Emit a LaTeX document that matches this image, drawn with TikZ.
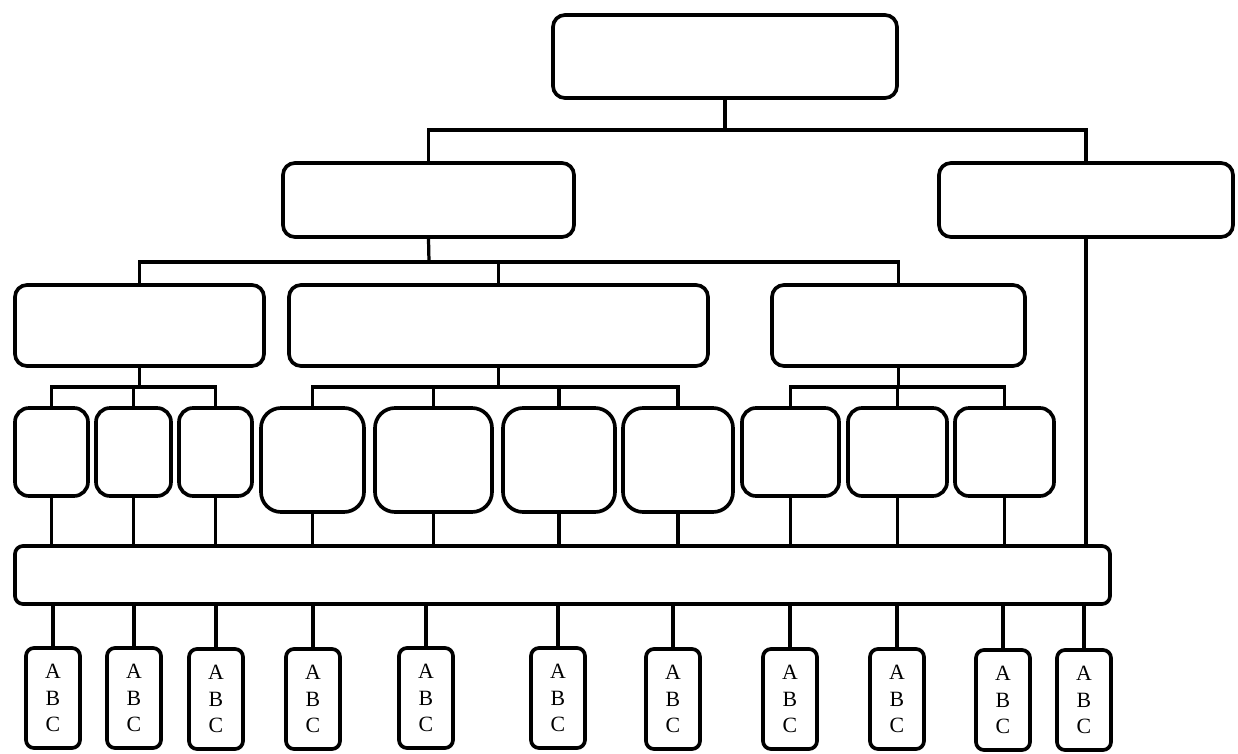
\documentclass[tikz,border=0pt]{standalone}
\usepackage{fontspec}
\setmainfont{Liberation Serif}
\usetikzlibrary{positioning}

\begin{document}
\begin{tikzpicture}[
    x=0.025cm, y=-0.025cm,
    box/.style={
      draw,
      line width=2.6pt,
      rounded corners=0.3cm,
      inner sep=0pt
    },
    dims/.style 2 args={minimum width=#1*0.025cm, minimum height=#2*0.025cm},
    tall/.style={box, rounded corners=0.5cm, dims={#1}{104}},
    narrow/.style={box, rounded corners=0.35cm, dims={#1}{88}},
    leaf/.style={
      box,
      rounded corners=0.2cm,
      dims={54}{100},
      align=center,
      font=\fontsize{15.5}{19}\selectfont
    },
    link/.style={line width=2.3pt}
  ]
    \useasboundingbox (0,0) rectangle (1238,754);

    % top levels
    \node[box, dims={344}{83}] (root) at (725,56.5) {};
    \node[box, dims={291}{74}] (left) at (428.5,200) {};
    \node[box, dims={294}{74}] (right) at (1086,200) {};

    \node[box, dims={249}{81}] (grpA) at (139.5,325.5) {};
    \node[box, dims={419}{81}] (grpB) at (498.5,325.5) {};
    \node[box, dims={253}{81}] (grpC) at (898.5,325.5) {};

    % third level
    \node[narrow=73] (a1) at (51.5,452) {};
    \node[narrow=75] (a2) at (133.5,452) {};
    \node[narrow=73] (a3) at (215.5,452) {};

    \node[tall=103] (b1) at (312.5,460) {};
    \node[tall=117] (b2) at (433.5,460) {};
    \node[tall=112] (b3) at (559,460) {};
    \node[tall=110] (b4) at (678,460) {};

    \node[narrow=97] (c1) at (790.5,452) {};
    \node[narrow=99] (c2) at (897.5,452) {};
    \node[narrow=99] (c3) at (1004.5,452) {};

    % bus
    \node[box, rounded corners=0.2cm, dims={1095}{58}] (bus) at (562.5,575) {};

    % leaves
    \node[leaf] (leaf1) at (53,698) {A\\B\\C};
    \node[leaf] (leaf2) at (134,698) {A\\B\\C};
    \node[leaf] (leaf3) at (216,699) {A\\B\\C};
    \node[leaf] (leaf4) at (313,699) {A\\B\\C};
    \node[leaf] (leaf5) at (426,698) {A\\B\\C};
    \node[leaf] (leaf6) at (558,698) {A\\B\\C};
    \node[leaf] (leaf7) at (673,699) {A\\B\\C};
    \node[leaf] (leaf8) at (790,699) {A\\B\\C};
    \node[leaf] (leaf9) at (897,699) {A\\B\\C};
    \node[leaf] (leaf10) at (1003,700) {A\\B\\C};
    \node[leaf] (leaf11) at (1084,700) {A\\B\\C};

    % junctions
    \coordinate (j0) at (725,130);
    \coordinate (jL) at (429,262);
    \coordinate (jA) at (139.5,387);
    \coordinate (jB) at (498.5,387);
    \coordinate (jC) at (898.5,387);

    \draw[link] (root.south) -- (j0);
    \draw[link] (left.north) |- (j0) -| (right.north);
    \draw[link] (left.south) -- (jL);
    \draw[link] (grpA.north) |- (jL) -| (grpC.north);
    \draw[link] (grpB.north) -- (grpB.north |- jL);

    \draw[link] (grpA.south) -- (jA);
    \draw[link] (a1.north) |- (jA) -| (a3.north);
    \draw[link] (a2.north) -- (a2.north |- jA);

    \draw[link] (grpB.south) -- (jB);
    \draw[link] (b1.north) |- (jB) -| (b4.north);
    \draw[link] (b2.north) -- (b2.north |- jB);
    \draw[link] (b3.north) -- (b3.north |- jB);

    \draw[link] (grpC.south) -- (jC);
    \draw[link] (c1.north) |- (jC) -| (c3.north);
    \draw[link] (c2.north) -- (c2.north |- jC);

    % into the bus
    \foreach \n in {a1,a2,a3,b1,b2,b3,b4,c1,c2,c3,right}
      \draw[link] (\n.south) -- (\n.south |- bus.north);

    % out of the bus
    \foreach \n in {1,...,11}
      \draw[link] (leaf\n.north) -- (leaf\n.north |- bus.south);
  \end{tikzpicture}
\end{document}
